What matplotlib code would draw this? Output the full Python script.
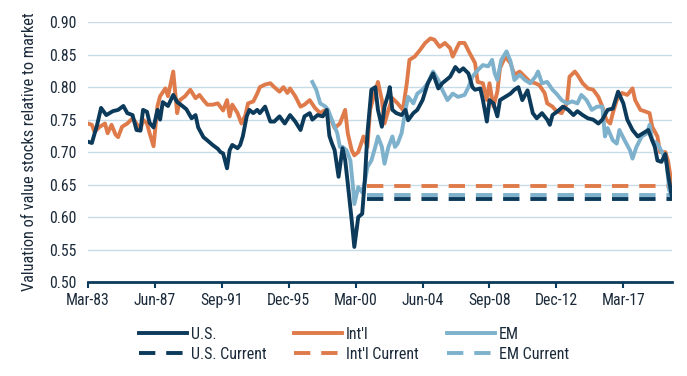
import matplotlib
matplotlib.use('Agg')
import matplotlib.pyplot as plt
from matplotlib.ticker import FixedLocator, FormatStrFormatter

plt.rcParams['font.family'] = ['Roboto Condensed', 'Liberation Sans Narrow', 'Roboto', 'DejaVu Sans']

# month index counted from Mar-83 (0) to Apr-20 (445)
tick_labels = ['Mar-83', 'Jun-87', 'Sep-91', 'Dec-95', 'Mar-00',
               'Jun-04', 'Sep-08', 'Dec-12', 'Mar-17']
tick_months = [0, 51, 102, 153, 204, 255, 306, 357, 408]

us_m = [0, 3, 7, 10, 14, 19, 23, 27, 30, 34, 37, 40, 42, 45, 47, 50, 53, 55, 57, 61,
        65, 68, 72, 75, 79, 82, 84, 88, 91, 95, 99, 101, 103, 106, 108, 110, 114, 116,
        118, 121, 123, 126, 129, 131, 135, 139, 142, 146, 150, 154, 158, 162, 165, 169,
        171, 175, 179, 182, 184, 186, 188, 191, 194, 196, 198, 201, 203, 206, 209, 211,
        213, 216, 219, 221, 224, 226, 229, 230, 232, 235, 239, 242, 244, 248, 251, 255,
        259, 263, 267, 270, 276, 280, 283, 286, 290, 293, 295, 299, 301, 304, 306, 309,
        312, 314, 318, 322, 325, 328, 331, 335, 339, 342, 346, 350, 352, 354, 358, 362,
        366, 370, 373, 377, 381, 385, 389, 392, 396, 400, 404, 408, 411, 415, 419, 423,
        427, 430, 432, 434, 437, 440, 442, 445]
us_v = [0.716, 0.714, 0.742, 0.768, 0.757, 0.763, 0.765, 0.771, 0.760, 0.757, 0.734,
        0.733, 0.765, 0.762, 0.745, 0.738, 0.765, 0.750, 0.777, 0.771, 0.788, 0.777,
        0.771, 0.766, 0.752, 0.757, 0.738, 0.723, 0.718, 0.711, 0.705, 0.700, 0.698,
        0.675, 0.703, 0.711, 0.706, 0.711, 0.724, 0.755, 0.765, 0.760, 0.765, 0.760,
        0.770, 0.747, 0.747, 0.755, 0.744, 0.757, 0.747, 0.734, 0.755, 0.760, 0.750,
        0.757, 0.755, 0.765, 0.725, 0.713, 0.703, 0.662, 0.706, 0.688, 0.652, 0.595,
        0.554, 0.600, 0.605, 0.657, 0.729, 0.796, 0.800, 0.765, 0.739, 0.770, 0.790,
        0.800, 0.765, 0.760, 0.757, 0.765, 0.749, 0.760, 0.765, 0.780, 0.806, 0.821,
        0.798, 0.806, 0.816, 0.831, 0.824, 0.829, 0.821, 0.800, 0.796, 0.798, 0.780,
        0.747, 0.780, 0.775, 0.755, 0.780, 0.785, 0.790, 0.796, 0.800, 0.780, 0.795,
        0.760, 0.752, 0.760, 0.750, 0.742, 0.757, 0.763, 0.770, 0.765, 0.757, 0.763,
        0.757, 0.752, 0.750, 0.744, 0.750, 0.765, 0.767, 0.793, 0.775, 0.750, 0.734,
        0.724, 0.729, 0.734, 0.718, 0.708, 0.687, 0.685, 0.697, 0.667, 0.631]

intl_m = [0, 3, 5, 9, 13, 15, 18, 21, 23, 26, 30, 34, 37, 40, 42, 45, 47, 50, 53, 55,
          59, 61, 65, 68, 70, 74, 78, 82, 85, 88, 91, 95, 99, 103, 106, 108, 110, 114,
          117, 120, 122, 126, 129, 131, 135, 139, 142, 146, 149, 152, 154, 158, 162,
          165, 169, 173, 177, 181, 184, 188, 192, 196, 198, 201, 203, 206, 210, 213,
          215, 217, 221, 224, 226, 229, 232, 236, 240, 243, 245, 249, 253, 257, 261,
          264, 268, 272, 276, 278, 283, 287, 291, 295, 297, 301, 304, 306, 309, 312,
          314, 318, 322, 325, 329, 333, 337, 341, 344, 348, 350, 354, 357, 361, 365,
          367, 371, 373, 377, 381, 385, 389, 392, 395, 398, 400, 403, 407, 411, 415,
          417, 421, 424, 428, 430, 434, 436, 440, 442, 445]
intl_v = [0.744, 0.742, 0.731, 0.739, 0.744, 0.729, 0.742, 0.727, 0.723, 0.739, 0.744,
          0.752, 0.744, 0.734, 0.750, 0.744, 0.729, 0.709, 0.771, 0.786, 0.798, 0.786,
          0.824, 0.760, 0.780, 0.786, 0.796, 0.783, 0.788, 0.780, 0.773, 0.773, 0.775,
          0.764, 0.780, 0.755, 0.773, 0.760, 0.744, 0.757, 0.775, 0.778, 0.790, 0.800,
          0.804, 0.806, 0.800, 0.793, 0.800, 0.791, 0.798, 0.786, 0.770, 0.773, 0.780,
          0.768, 0.760, 0.765, 0.757, 0.737, 0.744, 0.765, 0.729, 0.703, 0.695, 0.700,
          0.724, 0.708, 0.765, 0.780, 0.808, 0.780, 0.744, 0.765, 0.783, 0.775, 0.765,
          0.806, 0.842, 0.847, 0.857, 0.868, 0.875, 0.873, 0.862, 0.868, 0.860, 0.847,
          0.868, 0.868, 0.852, 0.837, 0.808, 0.806, 0.780, 0.806, 0.770, 0.793, 0.829,
          0.847, 0.837, 0.819, 0.824, 0.816, 0.808, 0.806, 0.803, 0.791, 0.775, 0.770,
          0.763, 0.760, 0.775, 0.816, 0.824, 0.819, 0.806, 0.798, 0.796, 0.785, 0.770,
          0.750, 0.744, 0.760, 0.780, 0.791, 0.788, 0.798, 0.780, 0.765, 0.763, 0.760,
          0.739, 0.724, 0.700, 0.700, 0.687, 0.649]

em_m = [171, 174, 177, 181, 183, 186, 190, 192, 194, 197, 200, 202, 203, 206, 209, 211,
        213, 216, 219, 221, 224, 226, 229, 232, 234, 236, 239, 242, 244, 248, 251, 255,
        259, 263, 267, 270, 274, 278, 282, 287, 290, 293, 297, 301, 305, 308, 310, 312,
        315, 319, 322, 325, 329, 333, 337, 341, 343, 346, 350, 354, 357, 361, 365, 369,
        373, 376, 380, 384, 388, 392, 394, 396, 400, 403, 405, 409, 413, 415, 418, 422,
        426, 428, 430, 434, 438, 441, 443, 445]
em_v = [0.808, 0.796, 0.775, 0.770, 0.765, 0.749, 0.729, 0.708, 0.708, 0.703, 0.687,
        0.646, 0.620, 0.646, 0.638, 0.654, 0.677, 0.687, 0.708, 0.724, 0.708, 0.682,
        0.708, 0.724, 0.708, 0.713, 0.729, 0.765, 0.785, 0.775, 0.790, 0.796, 0.806,
        0.824, 0.811, 0.796, 0.780, 0.790, 0.785, 0.788, 0.800, 0.816, 0.826, 0.834,
        0.832, 0.842, 0.821, 0.811, 0.842, 0.855, 0.840, 0.811, 0.819, 0.811, 0.806,
        0.816, 0.824, 0.806, 0.808, 0.796, 0.790, 0.780, 0.775, 0.778, 0.775, 0.788,
        0.780, 0.765, 0.770, 0.770, 0.724, 0.737, 0.718, 0.713, 0.734, 0.718, 0.703,
        0.690, 0.708, 0.724, 0.729, 0.742, 0.718, 0.713, 0.698, 0.682, 0.641, 0.634]

current_start, current_end = 213, 445
us_current = 0.628
intl_current = 0.648
em_current = 0.634

navy = '#0c3a5b'
orange = '#df7b4a'
light = '#7db1cc'
text_col = '#1b2a3a'

fig = plt.figure(figsize=(6.87, 3.76), dpi=100)
ax = fig.add_axes([0.128, 0.25, 0.850, 0.691])

lw = 2.8
ax.plot(us_m, us_v, color=navy, lw=lw, label='U.S.', solid_joinstyle='round', zorder=3)
ax.plot(intl_m, intl_v, color=orange, lw=lw, label="Int'l", solid_joinstyle='round', zorder=2)
ax.plot(em_m, em_v, color=light, lw=lw, label='EM', solid_joinstyle='round', zorder=2.5)

dash = (4.2, 2.8)
ax.plot([current_start, current_end], [us_current, us_current], color=navy, lw=lw,
        dashes=dash, label='U.S. Current', zorder=2)
ax.plot([current_start, current_end], [intl_current, intl_current], color=orange, lw=lw,
        dashes=dash, label="Int'l Current", zorder=2)
ax.plot([current_start, current_end], [em_current, em_current], color=light, lw=lw,
        dashes=dash, label='EM Current', zorder=2.2)

ax.set_xlim(0, 445)
ax.set_ylim(0.50, 0.90)
ax.yaxis.set_major_locator(FixedLocator([0.50 + 0.05 * i for i in range(9)]))
ax.yaxis.set_major_formatter(FormatStrFormatter('%.2f'))
ax.set_xticks(tick_months)
ax.set_xticklabels(tick_labels)

ax.grid(axis='y', color='#c8dce7', lw=1.0, zorder=0)
ax.set_axisbelow(True)
for s in ['left', 'right', 'top']:
    ax.spines[s].set_visible(False)
ax.spines['bottom'].set_color(navy)
ax.spines['bottom'].set_linewidth(2.0)
ax.tick_params(axis='y', length=0, pad=8, labelsize=11.3, labelcolor=text_col)
ax.tick_params(axis='x', length=4, width=1.5, color=navy, direction='out',
               pad=4, labelsize=11.3, labelcolor=text_col)

ax.set_ylabel('Valuation of value stocks relative to market', fontsize=11.8,
              color=text_col, labelpad=9)

handles, labels = ax.get_legend_handles_labels()
order = [0, 3, 1, 4, 2, 5]
fig.legend([handles[i] for i in order], [labels[i] for i in order],
           loc='center', bbox_to_anchor=(0.515, 0.084), ncol=3, frameon=False,
           fontsize=11.5, handlelength=3.0, handletextpad=0.25, columnspacing=1.75,
           labelspacing=0.3, labelcolor=text_col)

fig.savefig('out.png', dpi=100)
